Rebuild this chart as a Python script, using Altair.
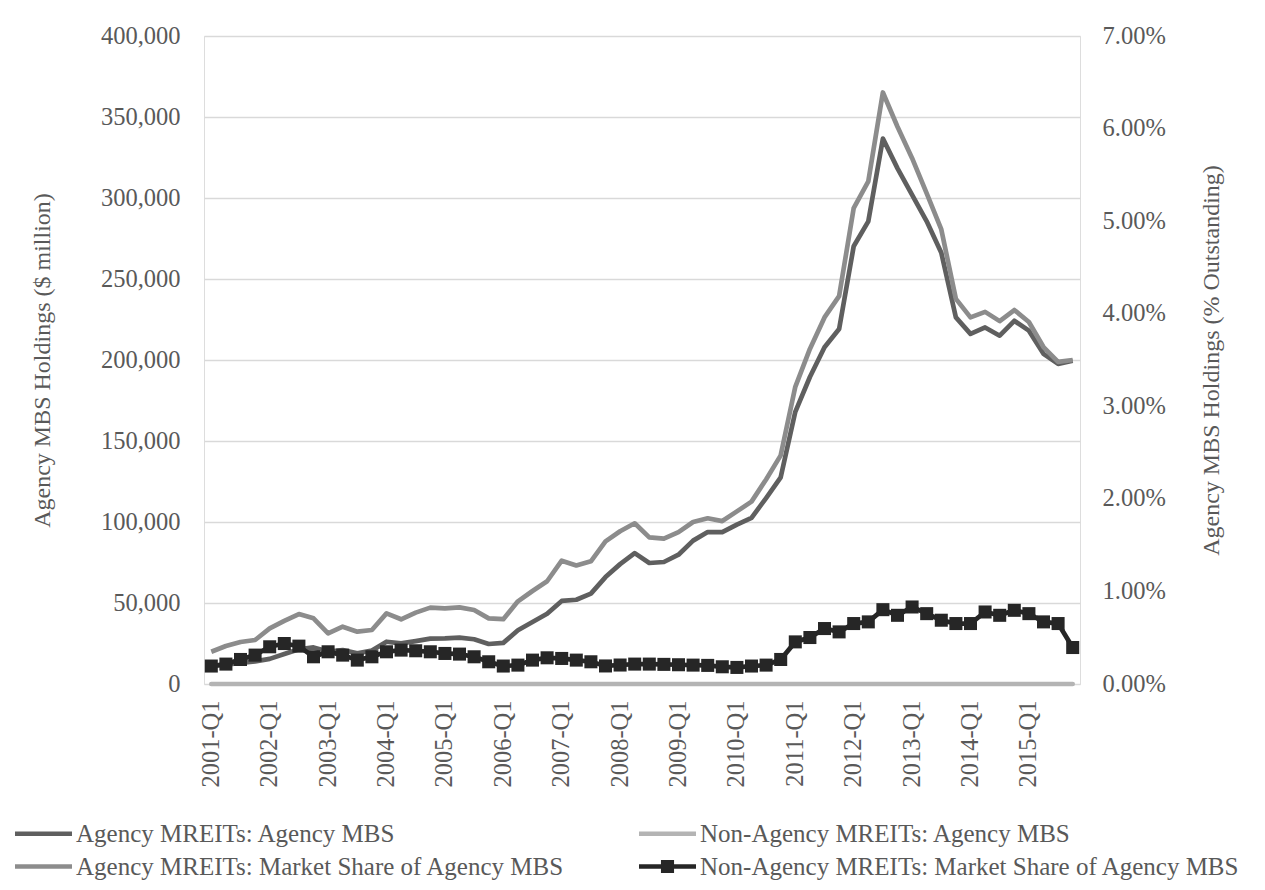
import altair as alt
import pandas as pd

quarters = [f"{y}-Q{q}" for y in range(2001, 2016) for q in range(1, 5)]
tick_labels = ["2001-Q1", "2002-Q1", "2003-Q1", "2004-Q1", "2005-Q1", "2006-Q1", "2007-Q1",
               "2008-Q1", "2009-Q1", "2010-Q1", "2011-Q1", "2012-Q1", "2013-Q1", "2014-Q1", "2015-Q1"]

series_names = [
    "Agency MREITs: Agency MBS",
    "Non-Agency MREITs: Agency MBS",
    "Agency MREITs: Market Share of Agency MBS",
    "Non-Agency MREITs: Market Share of Agency MBS",
]
series_colors = ["#5f5f5f", "#b4b4b4", "#8c8c8c", "#262626"]

# $ million (left axis)
agency_mbs = [11000, 12000, 13000, 14000, 15500, 18500, 21400, 22600, 20000, 21000,
              19000, 20600, 26100, 25100, 26500, 28000, 28200, 28600, 27600, 24700,
              25400, 33200, 38300, 43400, 51300, 52000, 55800, 66000, 74000, 80800,
              74700, 75300, 79800, 88500, 93800, 93800, 98400, 102500, 114800, 127600,
              168000, 189500, 207900, 219100, 270200, 285600, 336700, 318300, 301900, 285600,
              266200, 226300, 216100, 220100, 215000, 224200, 218100, 203800, 197600, 199500]
nonagency_mbs = [0, 0, 0, 0, 0, 0, 0, 0, 0, 0,
                 0, 0, 0, 0, 0, 0, 0, 0, 0, 0,
                 0, 0, 0, 0, 0, 0, 0, 0, 0, 0,
                 0, 0, 0, 0, 0, 0, 0, 0, 0, 0,
                 0, 0, 0, 0, 0, 0, 0, 0, 0, 0,
                 0, 0, 0, 0, 0, 0, 0, 0, 0, 0]
# % outstanding (right axis)
agency_share = [0.349, 0.410, 0.454, 0.475, 0.601, 0.681, 0.756, 0.709, 0.547, 0.619,
                0.565, 0.583, 0.763, 0.699, 0.771, 0.825, 0.817, 0.828, 0.800, 0.709,
                0.700, 0.893, 1.005, 1.110, 1.332, 1.280, 1.325, 1.540, 1.650, 1.736,
                1.584, 1.570, 1.640, 1.750, 1.790, 1.760, 1.865, 1.970, 2.210, 2.470,
                3.210, 3.620, 3.960, 4.190, 5.140, 5.430, 6.390, 6.020, 5.680, 5.300,
                4.910, 4.160, 3.960, 4.020, 3.920, 4.040, 3.910, 3.640, 3.480, 3.500]
nonagency_share = [0.194, 0.215, 0.265, 0.312, 0.402, 0.437, 0.409, 0.294, 0.348, 0.312,
                   0.258, 0.294, 0.348, 0.366, 0.359, 0.348, 0.330, 0.323, 0.294, 0.240,
                   0.194, 0.204, 0.258, 0.283, 0.276, 0.258, 0.240, 0.195, 0.205, 0.215,
                   0.215, 0.212, 0.208, 0.204, 0.201, 0.186, 0.179, 0.194, 0.204, 0.265,
                   0.455, 0.502, 0.599, 0.563, 0.653, 0.671, 0.803, 0.742, 0.832, 0.760,
                   0.689, 0.653, 0.653, 0.778, 0.742, 0.796, 0.760, 0.671, 0.653, 0.394]

rows = []
for name, vals in zip(series_names, [agency_mbs, nonagency_mbs, agency_share, nonagency_share]):
    for q, v in zip(quarters, vals):
        rows.append({"quarter": q, "series": name, "value": v})
df = pd.DataFrame(rows)

FONT = "Liberation Serif"
TXT = "#595959"

line_path = "M-2,-0.165L2,-0.165L2,0.165L-2,0.165Z"
sq_path = ("M-2,-0.165L-0.46,-0.165L-0.46,-0.46L0.46,-0.46L0.46,-0.165L2,-0.165L2,0.165L0.46,0.165"
           "L0.46,0.46L-0.46,0.46L-0.46,0.165L-2,0.165Z")

legend = alt.Legend(
    title=None, orient="none", legendX=-178, legendY=783, columns=2, direction="horizontal",
    columnPadding=74, rowPadding=5, symbolSize=812, symbolOffset=3, labelOffset=18,
    symbolOpacity=1, symbolStrokeWidth=0,
    labelFont=FONT, labelFontSize=25, labelColor=TXT, labelLimit=700,
)

cscale = alt.Scale(domain=series_names, range=series_colors)
color = alt.Color("series:N", scale=cscale, legend=legend)
shape = alt.Shape("series:N", scale=alt.Scale(domain=series_names,
                                              range=[line_path, line_path, line_path, sq_path]),
                  legend=legend)

x = alt.X("quarter:N", sort=quarters, title=None,
          scale=alt.Scale(type="point", padding=0.5),
          axis=alt.Axis(values=tick_labels, labelAngle=270, labelFont=FONT, labelFontSize=24.5,
                        labelColor=TXT, labelPadding=16, ticks=False, domain=False, grid=False))

yL = alt.Y("value:Q", title="Agency MBS Holdings ($ million)",
           scale=alt.Scale(domain=[0, 400000], nice=False),
           axis=alt.Axis(values=[0, 50000, 100000, 150000, 200000, 250000, 300000, 350000, 400000],
                         format=",d", labelFont=FONT, labelFontSize=24.5, labelColor=TXT,
                         labelPadding=24, ticks=False, domain=False, grid=True,
                         gridColor="#d9d9d9", gridWidth=1.5,
                         titleFont=FONT, titleFontSize=24, titleFontWeight="normal",
                         titleColor=TXT, titlePadding=46))
yR = alt.Y("value:Q", title="Agency MBS Holdings (% Outstanding)",
           scale=alt.Scale(domain=[0, 7], nice=False),
           axis=alt.Axis(orient="right", values=[0, 1, 2, 3, 4, 5, 6, 7],
                         labelExpr="format(datum.value, '.2f') + '%'",
                         labelFont=FONT, labelFontSize=24.5, labelColor=TXT,
                         labelPadding=22, ticks=False, domain=False, grid=False,
                         titleFont=FONT, titleFontSize=24, titleFontWeight="normal",
                         titleColor=TXT, titlePadding=34, titleAngle=270, titleBaseline="top"))

base = alt.Chart(df)

def filt(i):
    return alt.datum.series == series_names[i]

dark = base.transform_filter(filt(0)).mark_line(strokeWidth=4.7, strokeJoin="round").encode(x=x, y=yL, color=color)
light = base.transform_filter(filt(1)).mark_line(strokeWidth=4.7, strokeCap="round").encode(x=x, y=yL, color=color)
legend_keys = base.transform_filter(filt(1)).transform_filter(alt.datum.quarter == quarters[0]).mark_point(
    filled=True, opacity=0, size=812).encode(x=x, y=yL, color=color, shape=shape)
med = base.transform_filter(filt(2)).mark_line(strokeWidth=4.7, strokeJoin="round").encode(x=x, y=yR, color=color)
blk = base.transform_filter(filt(3)).mark_line(
    strokeWidth=4.7,
    point=alt.OverlayMarkDef(shape="square", size=170, filled=True, opacity=1),
).encode(x=x, y=yR, color=color)

left = alt.layer(dark, light, legend_keys)
right = alt.layer(med, blk)

chart = alt.layer(left, right).resolve_scale(y="independent").properties(
    width=876, height=648,
    autosize=alt.AutoSizeParams(type="none"),
    padding={"left": 196, "top": 28, "right": 177, "bottom": 198},
).configure_view(strokeWidth=0).configure(background="white")

chart.save("out.html", embed_options={"renderer": "svg", "actions": False})
